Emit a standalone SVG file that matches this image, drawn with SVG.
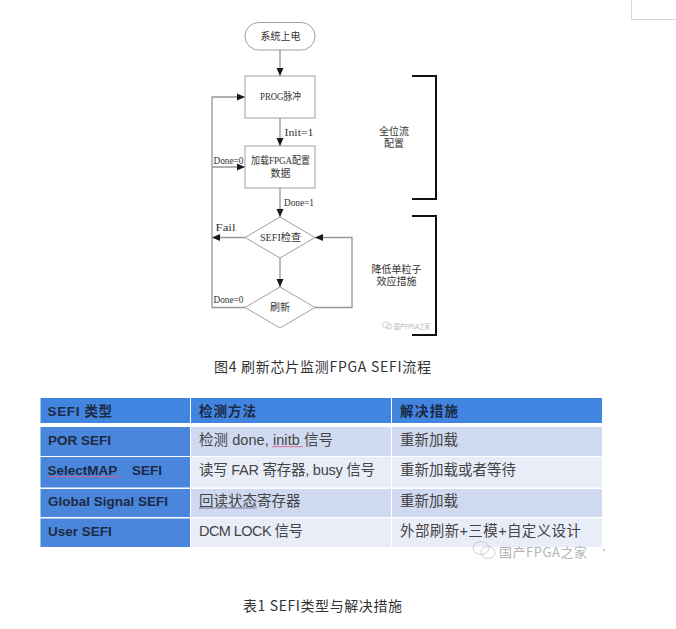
<svg xmlns="http://www.w3.org/2000/svg" width="676" height="629" viewBox="0 0 676 629">
<defs>
<marker id="ah" markerUnits="userSpaceOnUse" markerWidth="8" markerHeight="8" refX="8" refY="4" orient="auto"><path d="M0 0.500L8 4L0 7.500z" fill="#1a1a1a"/></marker>
</defs>
<style>
.n{fill:#fff;stroke:#a0a0a0;stroke-width:1}
.c{fill:none;stroke:#969696;stroke-width:1.300}
.a{marker-end:url(#ah)}
.b{fill:none;stroke:#111;stroke-width:2}
.t{font-family:"Liberation Serif","Noto Sans CJK SC",serif;font-size:10px;fill:#333;text-anchor:middle}
.l{font-family:"Liberation Serif",serif;font-size:10.500px;fill:#333}
.cap{font-family:"Noto Sans CJK SC","Noto Sans",sans-serif;font-size:14px;fill:#333}
.hc{fill:#4285e0}
.k{fill:#4a86dc}
.o{fill:#cfd9f0}
.e{fill:#e9edf8}
.th{font-family:"Liberation Sans","Noto Sans CJK SC",sans-serif;font-size:13.500px;font-weight:700;fill:#1c2a44}
.td{font-family:"Liberation Sans","Noto Sans CJK SC",sans-serif;font-size:14.500px;fill:#444}
.wm{font-family:"Noto Sans CJK SC",sans-serif;fill:#b4b4b4}
.wi{fill:none;stroke:#c4c4c4;stroke-width:.8}
</style>
<rect width="676" height="629" fill="#fff"/>
<path d="M631.500 0V19.500H676" fill="none" stroke="#d8d8d8"/>

<g id="connectors">
<path class="c a" d="M280 50V76"/>
<path class="c a" d="M280 118V146"/>
<path class="c a" d="M280 188V217"/>
<path class="c a" d="M280 258V287"/>
<path class="c a" d="M245 237.500H212"/>
<path class="c a" d="M245 307.500H212V97H245"/>
<path class="c a" d="M212 167H245"/>
<path class="c a" d="M315 307.500H352V237.500H315"/>
<text class="l" x="284.500" y="136" textLength="29" lengthAdjust="spacingAndGlyphs">Init=1</text>
<text class="l" x="213.500" y="164" textLength="30" lengthAdjust="spacingAndGlyphs">Done=0</text>
<text class="l" x="284" y="206" textLength="30" lengthAdjust="spacingAndGlyphs">Done=1</text>
<text class="l" x="215.500" y="231" textLength="20" lengthAdjust="spacingAndGlyphs">Fail</text>
<text class="l" x="213.500" y="303" textLength="30" lengthAdjust="spacingAndGlyphs">Done=0</text>
</g>

<g id="start"><rect class="n" x="245" y="22.500" width="70" height="27.500" rx="13.700"/><text class="t" x="280.500" y="40">系统上电</text></g>
<g id="prog"><rect class="n" x="245" y="76" width="70" height="42"/><text class="t" x="280.500" y="100" textLength="41" lengthAdjust="spacingAndGlyphs">PROG脉冲</text></g>
<g id="load"><rect class="n" x="245" y="146" width="70" height="42"/><text class="t" x="280.500" y="164" textLength="59" lengthAdjust="spacingAndGlyphs">加载FPGA配置</text><text class="t" x="280.500" y="177">数据</text></g>
<g id="check"><path class="n" d="M280 217L315 237.500L280 258L245 237.500z"/><text class="t" x="280.500" y="241" textLength="41" lengthAdjust="spacingAndGlyphs">SEFI检查</text></g>
<g id="refresh"><path class="n" d="M280 287L315 307.500L280 328L245 307.500z"/><text class="t" x="280" y="311">刷新</text></g>

<g id="bracket-full"><path class="b" d="M412 76H436V199H412"/><text class="t" x="394" y="135">全位流</text><text class="t" x="394" y="147">配置</text></g>
<g id="bracket-reduce"><path class="b" d="M412 216H436V335H412"/><text class="t" x="396.500" y="273">降低单粒子</text><text class="t" x="396.500" y="285">效应措施</text></g>
<g id="watermark-small">
<ellipse class="wi" cx="386" cy="325" rx="3.500" ry="3"/><ellipse class="wi" cx="389" cy="326.500" rx="3" ry="2.500"/>
<text class="wm" x="394" y="329" font-size="6.500" textLength="36" lengthAdjust="spacingAndGlyphs">国产FPGA之家</text>
</g>

<text class="cap" x="214" y="372" textLength="217" lengthAdjust="spacing">图4 刷新芯片监测FPGA SEFI流程</text>

<g id="table">
<rect class="hc" x="40.500" y="398" width="149.500" height="25"/>
<rect class="hc" x="191" y="398" width="200" height="25"/>
<rect class="hc" x="392" y="398" width="210" height="25"/>
<rect class="k" x="40.500" y="427" width="149.500" height="29"/><rect class="o" x="191" y="427" width="200" height="29"/><rect class="o" x="392" y="427" width="210" height="29"/>
<rect class="k" x="40.500" y="457" width="149.500" height="30.500"/><rect class="e" x="191" y="457" width="200" height="30.500"/><rect class="e" x="392" y="457" width="210" height="30.500"/>
<rect class="k" x="40.500" y="489" width="149.500" height="28"/><rect class="o" x="191" y="489" width="200" height="28"/><rect class="o" x="392" y="489" width="210" height="28"/>
<rect class="k" x="40.500" y="518.500" width="149.500" height="28.500"/><rect class="e" x="191" y="518.500" width="200" height="28.500"/><rect class="e" x="392" y="518.500" width="210" height="28.500"/>
<text class="th" x="47.500" y="416" textLength="64.500" lengthAdjust="spacing">SEFI  类型</text><text class="th" x="199" y="416" textLength="57" lengthAdjust="spacing">检测方法</text><text class="th" x="400" y="416" textLength="58" lengthAdjust="spacing">解决措施</text>
<text class="th" x="48" y="445">POR SEFI</text><text class="td" x="199" y="445" textLength="134" lengthAdjust="spacing">检测 done, initb 信号</text><text class="td" x="400" y="445">重新加载</text>
<text class="th" x="47.500" y="475" xml:space="preserve">SelectMAP    SEFI</text><text class="td" x="199" y="475" textLength="176" lengthAdjust="spacing">读写 FAR 寄存器, busy 信号</text><text class="td" x="400" y="475">重新加载或者等待</text>
<text class="th" x="48" y="506">Global Signal SEFI</text><text class="td" x="199" y="506">回读状态寄存器</text><text class="td" x="400" y="506">重新加载</text>
<text class="th" x="48" y="536">User SEFI</text><text class="td" x="199" y="536" textLength="104" lengthAdjust="spacing">DCM LOCK 信号</text><text class="td" x="400" y="536" textLength="181" lengthAdjust="spacing">外部刷新+三模+自定义设计</text>
<path d="M272 446.700H303" stroke="#e0709a" stroke-width="1" fill="none"/>
<path d="M48 476.700H120" stroke="#d0608f" stroke-width="1" fill="none"/>
<path d="M199 508H257" stroke="#6f7f9a" stroke-width="1" fill="none"/>
</g>

<g id="watermark">
<ellipse class="wi" cx="481" cy="548" rx="8" ry="6.500"/><ellipse class="wi" cx="488" cy="552.500" rx="7" ry="6"/>
<text class="wm" x="499" y="557" font-size="13" textLength="88" lengthAdjust="spacing">国产FPGA之家</text>
<rect x="603" y="549" width="2" height="2" fill="#c4c4c4"/>
</g>

<text class="cap" x="243" y="611" textLength="159" lengthAdjust="spacing">表1 SEFI类型与解决措施</text>
</svg>
